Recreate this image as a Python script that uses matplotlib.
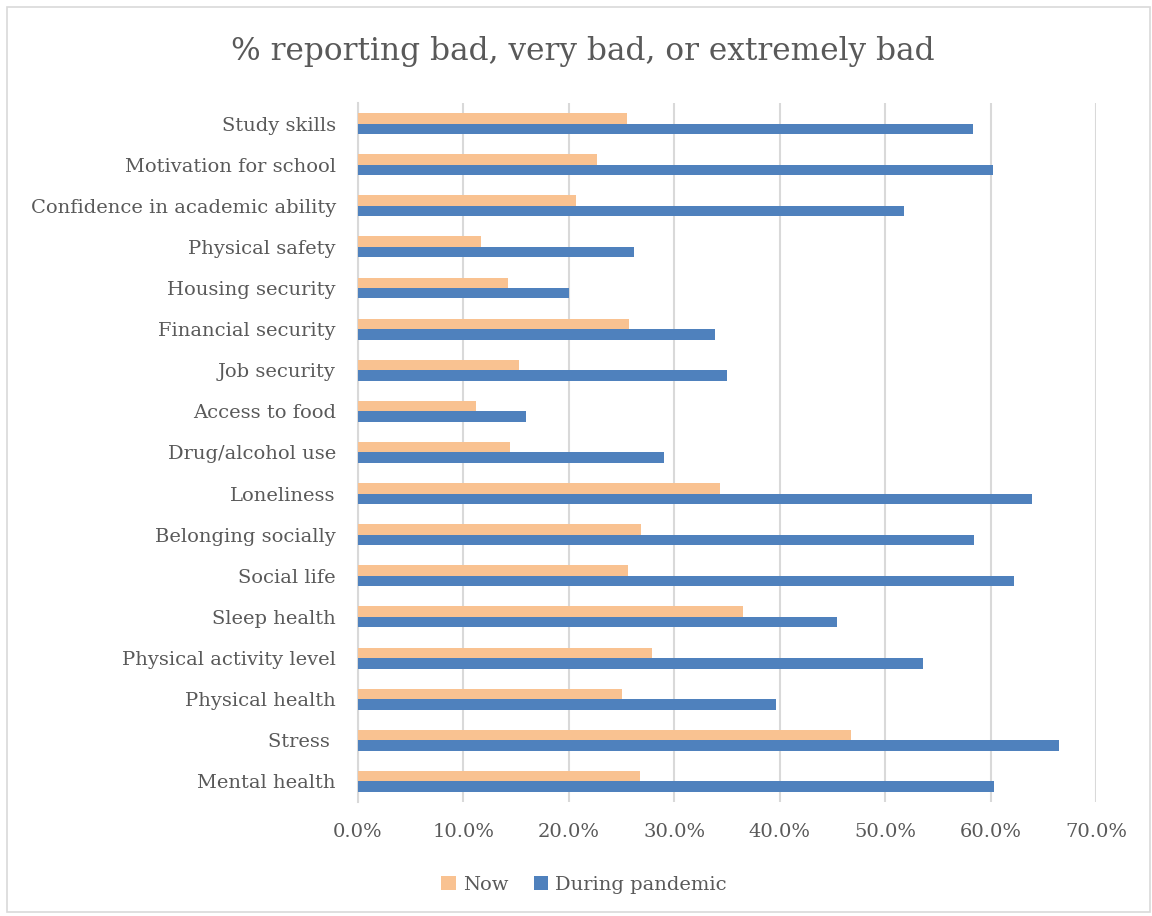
import matplotlib.pyplot as plt
from matplotlib.patches import Rectangle
from matplotlib.ticker import PercentFormatter
import numpy as np

plt.rcParams['font.family'] = ['DejaVu Serif']

# categories listed bottom to top
categories = ['Mental health', 'Stress ', 'Physical health', 'Physical activity level',
              'Sleep health', 'Social life', 'Belonging socially', 'Loneliness',
              'Drug/alcohol use', 'Access to food', 'Job security', 'Financial security',
              'Housing security', 'Physical safety', 'Confidence in academic ability',
              'Motivation for school', 'Study skills']
now = [26.7, 46.8, 25.0, 27.9, 36.5, 25.6, 26.8, 34.3,
       14.4, 11.2, 15.3, 25.7, 14.2, 11.7, 20.7, 22.7, 25.5]
during = [60.3, 66.5, 39.6, 53.6, 45.4, 62.2, 58.4, 63.9,
          29.0, 15.9, 35.0, 33.9, 20.0, 26.2, 51.8, 60.2, 58.3]

text_col = '#595959'
grid_col = '#D9D9D9'
c_now = '#F9C291'
c_during = '#4F81BD'

fig = plt.figure(figsize=(11.52, 9.16), dpi=100)
fig.patches.append(Rectangle((0.006, 0.004), 0.992, 0.988, transform=fig.transFigure,
                             fill=False, edgecolor='#D9D9D9', linewidth=1.2))
ax = fig.add_axes([0.3108, 0.1245, 0.6406, 0.7631])

y = np.arange(len(categories))
h = 0.255
ax.barh(y + h / 2, now, height=h, color=c_now, label='Now', zorder=3)
ax.barh(y - h / 2, during, height=h, color=c_during, label='During pandemic', zorder=3)

ax.set_xlim(0, 70)
ax.set_ylim(-0.5, len(categories) - 0.5)
ax.set_xticks(np.arange(0, 71, 10))
ax.xaxis.set_major_formatter(PercentFormatter(decimals=1))
ax.set_yticks(y)
ax.set_yticklabels(categories)
ax.grid(axis='x', color=grid_col, linewidth=1.5, zorder=0)
for s in ['top', 'right', 'bottom']:
    ax.spines[s].set_visible(False)
ax.spines['left'].set_color(grid_col)
ax.spines['left'].set_linewidth(1.5)
ax.tick_params(axis='y', length=0, pad=16, labelsize=14, labelcolor=text_col)
ax.tick_params(axis='x', length=0, pad=15, labelsize=14, labelcolor=text_col)

fig.text(0.506, 0.944, '% reporting bad, very bad, or extremely bad',
         ha='center', va='center', fontsize=22.5, color=text_col)

leg = fig.legend(loc='center', bbox_to_anchor=(0.507, 0.034), ncol=2, frameon=False,
                 fontsize=14, handlelength=0.75, handleheight=0.75, handletextpad=0.35,
                 columnspacing=1.3, labelcolor=text_col)

fig.savefig('out.png', dpi=100)
